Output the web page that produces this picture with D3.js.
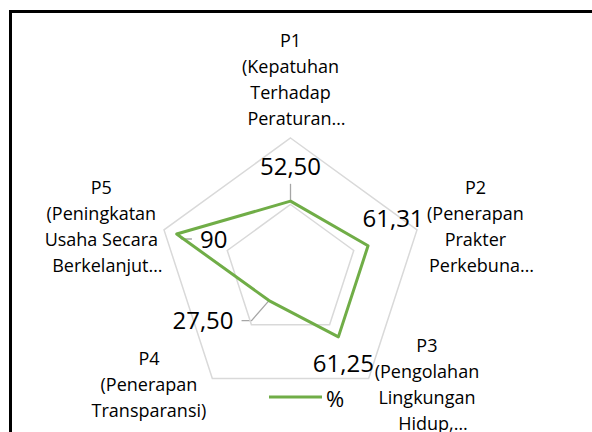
<!DOCTYPE html>
<html>
<head>
<meta charset="utf-8">
<script src="https://cdn.jsdelivr.net/npm/d3@7"></script>
<style>
  html, body { margin: 0; padding: 0; background: #fff; }
  svg { display: block; }
  text { font-family: "Open Sans", sans-serif; fill: #000; }
</style>
</head>
<body>
<div id="chart"></div>
<script>
// category labels, already wrapped the way the original shows them
const categories = [
    ["P1", "(Kepatuhan", "Terhadap", "Peraturan…"],
    ["P2", "(Penerapan", "Prakter", "Perkebuna…"],
    ["P3", "(Pengolahan", "Lingkungan", "Hidup,…"],
    ["P4", "(Penerapan", "Transparansi)"],
    ["P5", "(Peningkatan", "Usaha Secara", "Berkelanjut…"]
];
const values = [52.50, 61.31, 61.25, 27.50, 90];
const valueLabels = ["52,50", "61,31", "61,25", "27,50", "90"];
const ringTicks = [50, 100];
const seriesName = "%";

const width = 592;
const height = 432;
const cx = 290.5, cy = 271, R = 133;

// where the data labels were dragged to, relative to their point
const labelNudge = [[0, -35], [25, -27], [5, 26], [-66, 20], [37, 5]];
const leaderOn = [true, false, false, true, true];

const svg = d3.select("#chart").append("svg")
    .attr("width", width)
    .attr("height", height);

svg.append("rect")
    .attr("x", 10.5).attr("y", 11.5)
    .attr("width", width + 20).attr("height", height + 20)
    .attr("fill", "#fff")
    .attr("stroke", "#000")
    .attr("stroke-width", 3);

const r = d3.scaleLinear().domain([0, 100]).range([0, R]);
const angle = d3.scaleLinear().domain([0, categories.length]).range([0, 2 * Math.PI]);

const g = svg.append("g").attr("transform", `translate(${cx},${cy})`);

const radial = d3.lineRadial().curve(d3.curveLinearClosed);

// grid rings
g.selectAll(".ring")
    .data(ringTicks)
    .enter().append("path")
    .attr("class", "ring")
    .attr("d", t => radial(categories.map((c, i) => [angle(i), r(t)])))
    .attr("fill", "none")
    .attr("stroke", "#d9d9d9")
    .attr("stroke-width", 1.5);

// series
g.append("path")
    .attr("d", radial(values.map((v, i) => [angle(i), r(v)])))
    .attr("fill", "none")
    .attr("stroke", "#70ad47")
    .attr("stroke-width", 3)
    .attr("stroke-linejoin", "round");

const pt = (v, i) => [r(v) * Math.sin(angle(i)), -r(v) * Math.cos(angle(i))];

// category labels
categories.forEach((lines, i) => {
    const a = angle(i);
    const [vx, vy] = pt(100, i);
    const s = Math.sin(a), c = Math.cos(a);
    const grp = g.append("g").attr("class", "cat");
    const texts = grp.selectAll("text")
        .data(lines)
        .enter().append("text")
        .attr("text-anchor", "middle")
        .attr("font-size", 18)
        .text(d => d);
    const w = d3.max(texts.nodes(), n => n.getComputedTextLength());
    let bx, by;
    if (Math.abs(s) < 0.1) {
        bx = vx;
        by = vy - 19 - (lines.length - 1) * 26 / 2;
    } else {
        bx = s > 0 ? vx + 6 + w / 2 : vx - 6 - w / 2;
        by = vy + (c > 0 ? -3 : 6);
    }
    texts
        .attr("x", d => bx + (d.endsWith("…") ? 6 : 0))
        .attr("y", (d, k) => by + (k - (lines.length - 1) / 2) * 26)
        .attr("dy", "0.36em");
});

// data labels and leader lines
values.forEach((v, i) => {
    const [px, py] = pt(v, i);
    const lx = px + labelNudge[i][0], ly = py + labelNudge[i][1];
    const t = g.append("text")
        .attr("x", lx).attr("y", ly)
        .attr("dy", "0.36em")
        .attr("text-anchor", "middle")
        .attr("font-size", 24)
        .text(valueLabels[i]);
    if (!leaderOn[i]) return;
    const b = t.node().getBBox();
    let pts;
    if (Math.abs(labelNudge[i][0]) < Math.abs(labelNudge[i][1])) {
        pts = [[lx, b.y + b.height + 2], [px, py]];
    } else {
        const ex = px < lx ? b.x - 8 : b.x + b.width + 8;
        const dir = px < lx ? -1 : 1;
        pts = [[ex, ly], [ex + dir * 10, ly], [px, py]];
    }
    g.insert("path", "path")
        .attr("d", d3.line()(pts))
        .attr("fill", "none")
        .attr("stroke", "#a6a6a6")
        .attr("stroke-width", 1.3);
});

// legend
const legend = svg.append("g").attr("transform", "translate(269,397)");
legend.append("line")
    .attr("x1", 0).attr("x2", 53)
    .attr("stroke", "#70ad47")
    .attr("stroke-width", 3);
legend.append("text")
    .attr("x", 57).attr("y", 2)
    .attr("dy", "0.36em")
    .attr("font-size", 22)
    .text(seriesName);
</script>
</body>
</html>
